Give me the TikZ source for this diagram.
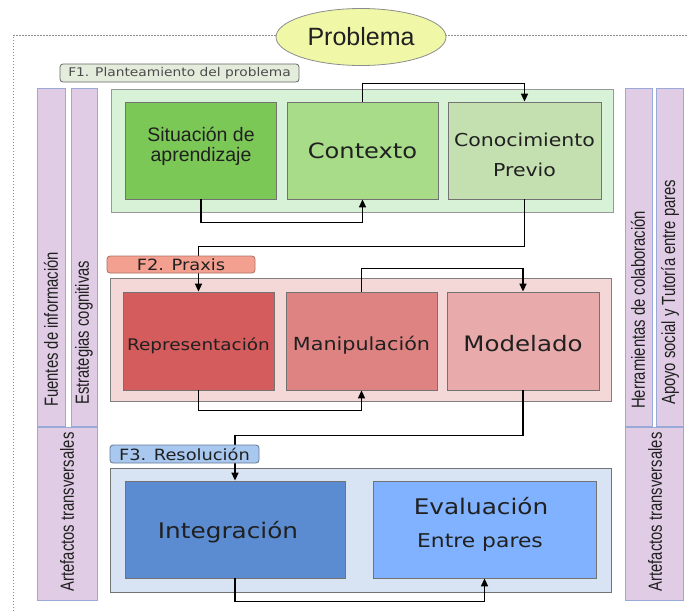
\documentclass[tikz,border=0pt]{standalone}
\usepackage{fontspec}
\usetikzlibrary{arrows.meta,shapes.geometric}
\newfontfamily\dvs[FakeStretch=1.15]{DejaVu Sans}
\newfontfamily\lib{Liberation Sans}
\newfontfamily\libn[FakeStretch=0.78]{Liberation Sans}
\definecolor{ellfill}{HTML}{F0F8A8}
\definecolor{fonegfill}{HTML}{E4ECDC}
\definecolor{fonebg}{HTML}{D8F2D8}
\definecolor{gA}{HTML}{7CC857}
\definecolor{gB}{HTML}{A8DC88}
\definecolor{gC}{HTML}{C4E0B0}
\definecolor{ftwolab}{HTML}{F4A090}
\definecolor{ftwobg}{HTML}{F4D8D8}
\definecolor{rA}{HTML}{D45C5C}
\definecolor{rB}{HTML}{DE8282}
\definecolor{rC}{HTML}{E8AAAA}
\definecolor{fthreelab}{HTML}{A8C8F0}
\definecolor{fthreebg}{HTML}{D8E4F4}
\definecolor{bA}{HTML}{5B8BD0}
\definecolor{bB}{HTML}{80B2FF}
\definecolor{stripfill}{HTML}{E0CCE4}
\definecolor{stripdraw}{HTML}{9AAAD8}
\definecolor{txt}{HTML}{202020}
\begin{document}
\begin{tikzpicture}[x=1pt,y=-1pt,
  box/.style={draw=black!55,line width=0.8pt,inner sep=0pt,minimum width=151pt,minimum height=97pt},
  cont/.style={draw=black!40,line width=0.8pt},
  flab/.style={draw=black!60,line width=0.8pt,rounded corners=3pt},
  strip/.style={draw=stripdraw,fill=stripfill,line width=0.8pt},
  arr/.style={line width=1.5pt,black,-{Triangle[length=8pt,width=7pt]}},
  boxtxt/.style={text=txt,inner sep=0pt,align=center},
  striptxt/.style={text=txt,inner sep=0pt,rotate=90,font=\libn\fontsize{19}{22}\selectfont}
]
\useasboundingbox (0,0) rectangle (687,611);
% dotted frame
\draw[black!45,line width=0.9pt,dash pattern=on 1.5pt off 1.5pt] (13,611) -- (13,35) -- (687,35);
% ellipse
\node[ellipse,draw=black!45,fill=ellfill,line width=0.8pt,minimum width=170pt,minimum height=57pt,inner sep=0pt,text=txt,font=\lib\fontsize{25}{28}\selectfont] (prob) at (361,37) {Problema};
% side strips
\draw[strip] (37,88) rectangle (65,426);
\draw[strip] (71,88) rectangle (97,426);
\draw[strip] (37,427) rectangle (97,600);
\draw[strip] (625,88) rectangle (652,426);
\draw[strip] (656,88) rectangle (683,426);
\draw[strip] (625,427) rectangle (683,600);
\node[striptxt,anchor=west] (fuentes) at (51,407) {Fuentes de información};
\node[striptxt,anchor=west] (estrat) at (84,405) {Estrategias cognitivas};
\node[striptxt] (artL) at (67,512) {Artefactos transversales};
\node[striptxt,anchor=west] (herr) at (638,409) {Herramientas de colaboración};
\node[striptxt,anchor=west] (apoyo) at (670,405) {Apoyo social y Tutoría entre pares};
\node[striptxt] (artR) at (655,512) {Artefactos transversales};
% containers
\draw[cont,fill=fonebg] (111,89) rectangle (613,212);
\draw[cont,fill=ftwobg,draw=black!50] (110,278) rectangle (611,401);
\draw[cont,fill=fthreebg,draw=black!55] (110,468) rectangle (611,592);
% F1 boxes
\node[box,fill=gA] (sit) at (201,150.5) {};
\node[box,fill=gB] (ctx) at (362.5,150.5) {};
\node[box,fill=gC,minimum width=153pt] (con) at (524.5,150.5) {};
% F2 boxes
\node[box,fill=rA,minimum height=98pt] (rep) at (198.5,341) {};
\node[box,fill=rB,minimum height=98pt] (man) at (361.5,341) {};
\node[box,fill=rC,minimum width=152pt,minimum height=98pt] (mod) at (523,341) {};
% F3 boxes
\node[box,fill=bA,minimum width=220pt] (int) at (235,529.5) {};
\node[box,fill=bB,minimum width=223pt] (eva) at (484.5,529.5) {};
% texts
\node[boxtxt,font=\lib\fontsize{19.5}{20}\selectfont] (tsit) at (201,146) {Situación de\\aprendizaje};
\node[boxtxt,font=\dvs\fontsize{21}{24}\selectfont] (tctx) at (362.5,151) {Contexto};
\node[boxtxt,font=\dvs\fontsize{17.8}{20}\selectfont] (tcon1) at (524.5,140) {Conocimiento};
\node[boxtxt,font=\dvs\fontsize{17.8}{20}\selectfont] (tcon2) at (524.5,170) {Previo};
\node[boxtxt,font=\dvs\fontsize{16}{18}\selectfont] (trep) at (198.5,346) {Representación};
\node[boxtxt,font=\dvs\fontsize{18}{20}\selectfont] (tman) at (361.5,345) {Manipulación};
\node[boxtxt,font=\dvs\fontsize{21.3}{24}\selectfont] (tmod) at (523,344) {Modelado};
\node[boxtxt,font=\dvs\fontsize{21.5}{24}\selectfont] (tint) at (228,532) {Integración};
\node[boxtxt,font=\dvs\fontsize{21.5}{24}\selectfont] (teva1) at (481,506) {Evaluación};
\node[boxtxt,font=\dvs\fontsize{19}{22}\selectfont] (teva2) at (480,543) {Entre pares};
% arrows
\draw[arr] (ctx.north) -- ++(0,-18) -| (con.north);
\draw[arr] (sit.south) -- ++(0,23) -| (ctx.south);
\draw[arr] (con.south) -- ++(0,47) -| (rep.north);
\draw[arr] (man.north) -- ++(0,-23) -| (mod.north);
\draw[arr] (rep.south) -- ++(0,20) -| (man.south);
\draw[arr] (mod.south) -- ++(0,45) -| (int.north);
\draw[arr] (int.south) -- ++(0,23) -| (eva.south);
% phase labels
\draw[flab,fill=fonegfill] (60,64) rectangle (299,82);
\node[text=txt!80,inner sep=0pt,font=\dvs\fontsize{12}{14}\selectfont] (fone) at (179.5,73) {F1. Planteamiento del problema};
\draw[flab,fill=ftwolab,draw=ftwolab!70!black] (107,256) rectangle (255,273);
\node[text=txt,inner sep=0pt,font=\dvs\fontsize{15.5}{17}\selectfont] (ftwo) at (181,264.5) {F2. Praxis};
\draw[flab,fill=fthreelab,draw=fthreelab!60!black] (110,445) rectangle (259,463);
\node[text=txt,inner sep=0pt,font=\dvs\fontsize{15.5}{17}\selectfont] (fthree) at (184.5,454) {F3. Resolución};
\end{tikzpicture}
\end{document}
